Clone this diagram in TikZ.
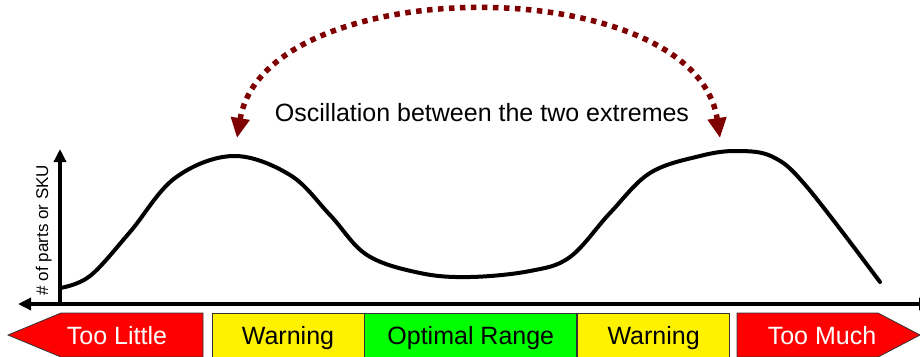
\documentclass[tikz,border=0pt]{standalone}
\usepackage{fontspec}
\setmainfont{Liberation Sans}
\definecolor{oscred}{HTML}{7F0000}
\usetikzlibrary{arrows.meta, positioning}

\begin{document}
\begin{tikzpicture}[
    x=1pt, y=-1pt,
    big/.style={font=\fontsize{25}{30}\selectfont},
    zone/.style={big, draw=black!80, line width=0.8pt, minimum height=44pt,
                 text height=18pt, text depth=0pt, inner sep=0pt},
    lbl/.style={big, text height=18pt, text depth=0pt, inner sep=0pt},
    tip/.tip={Triangle[length=13pt, width=12pt]},
    axis/.style={line width=3.5pt},
    curve/.style={line width=4pt, line cap=round},
    osc/.style={oscred, line width=5.5pt, dash pattern=on 5.5pt off 5.5pt,
                {Triangle[length=20pt, width=18pt]}-{Triangle[length=20pt, width=18pt]}}
  ]
  \useasboundingbox (0,0) rectangle (920,356);

  % axes
  \coordinate (o) at (60,304);
  \coordinate (xl) at (18,304);
  \coordinate (xr) at (932,304);
  \coordinate (yt) at (60,149);
  \draw[axis, tip-tip] (xl) -- (xr);
  \draw[axis, -tip] (o) -- (yt);
  \node[font=\fontsize{17}{20}\selectfont, rotate=90, anchor=base] (ylab) at (48,230) {\# of parts or SKU};

  % inventory level
  \draw[curve] plot[smooth, tension=0.6] coordinates {
      (60,288) (90,276) (130,232) (175,178) (233,156) (290,175) (330,215)
      (367,255) (420,273) (470,277) (530,271) (570,257) (610,213) (650,173)
      (700,156) (737,151) (773,157) (807,187) (880,282)};

  % oscillation
  \coordinate (oscl) at (237,138);
  \coordinate (oscr) at (720,138);
  \draw[osc] (oscl) .. controls (265,-30) and (695,-30) .. (oscr);
  \node[big, anchor=base] (osctxt) at (482,121) {Oscillation between the two extremes};

  % ranges
  \draw[draw=black!80, line width=0.8pt, fill=red] (8,335) -- (61,313) -- (203,313) -- (203,357) -- (61,357) -- cycle;
  \node[lbl, white] (little) at (117,335) {Too Little};
  \node[zone, fill=yellow, minimum width=152pt] (warn1) at (288,335) {Warning};
  \node[zone, fill=green, minimum width=212pt, right=0pt of warn1] (opt) {Optimal Range};
  \node[zone, fill=yellow, minimum width=152pt, right=0pt of opt] (warn2) {Warning};
  \draw[draw=black!80, line width=0.8pt, fill=red] (737,313) -- (878,313) -- (920,335) -- (878,357) -- (737,357) -- cycle;
  \node[lbl, white] (much) at (822,335) {Too Much};
\end{tikzpicture}
\end{document}
